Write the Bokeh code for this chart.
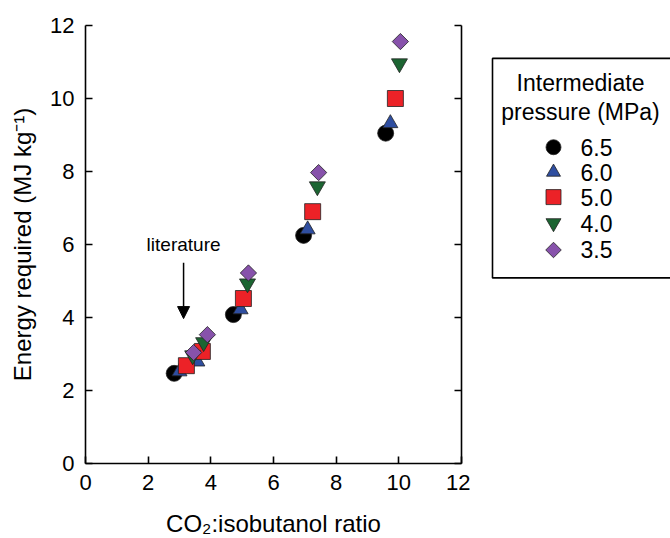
from bokeh.plotting import figure
from bokeh.layouts import row
from bokeh.models import (Range1d, LinearAxis, Label, Arrow, NormalHead, FixedTicker,
                          CustomJSTickFormatter)
from bokeh.embed import file_html
from bokeh.resources import INLINE
from bokeh.core.properties import value
import math

FONT = "Liberation Sans"

# Energy required vs CO2:isobutanol ratio, one series per intermediate pressure (MPa)
pressures = ["6.5", "6.0", "5.0", "4.0", "3.5"]

ratio_65 = [2.83, 4.72, 6.96, 9.58]
energy_65 = [2.47, 4.08, 6.25, 9.05]

ratio_60 = [3.00, 3.57, 4.95, 7.09, 9.73]
energy_60 = [2.52, 2.79, 4.22, 6.41, 9.32]

ratio_50 = [3.22, 3.73, 5.04, 7.25, 9.89]
energy_50 = [2.68, 3.07, 4.52, 6.90, 10.00]

ratio_40 = [3.42, 3.77, 5.17, 7.40, 10.02]
energy_40 = [2.96, 3.32, 4.93, 7.59, 10.96]

ratio_35 = [3.45, 3.89, 5.20, 7.44, 10.05]
energy_35 = [3.04, 3.53, 5.22, 7.97, 11.56]

x_ticks = [0, 2, 4, 6, 8, 10, 12]
y_ticks = [0, 2, 4, 6, 8, 10, 12]

literature_ratio = 3.13

colors = ["#000000", "#2f4ea0", "#ec2227", "#1c6532", "#8752ab"]
markers = ["circle", "triangle", "square", "inverted_triangle", "square"]
angles = [0, 0, 0, 0, math.pi / 4]
sizes = [16, 15, 16, 16, 11.5]

series = [
    (ratio_65, energy_65),
    (ratio_60, energy_60),
    (ratio_50, energy_50),
    (ratio_40, energy_40),
    (ratio_35, energy_35),
]

BORDER_TOP, BORDER_BOTTOM = 25, 75

p = figure(
    frame_width=376, frame_height=438,
    x_range=Range1d(0, 12), y_range=Range1d(0, 12),
    output_backend="svg", toolbar_location=None,
    min_border_left=85, min_border_right=9,
    min_border_top=BORDER_TOP, min_border_bottom=BORDER_BOTTOM,
    background_fill_color="white", border_fill_color="white",
)
p.outline_line_color = None
p.xgrid.visible = False
p.ygrid.visible = False

for ax in (p.xaxis[0], p.yaxis[0]):
    ax.ticker = FixedTicker(ticks=x_ticks)
    ax.major_tick_in = 7
    ax.major_tick_out = 0
    ax.minor_tick_line_color = None
    ax.axis_line_width = 1.6
    ax.major_tick_line_width = 1.6
    ax.major_label_text_font = FONT
    ax.major_label_text_font_size = "22px"
    ax.major_label_text_color = "black"
    ax.axis_label_text_font = FONT
    ax.axis_label_text_font_size = "24px"
    ax.axis_label_text_font_style = "normal"
    ax.axis_label_text_color = "black"
    ax.major_label_standoff = 11

p.yaxis[0].ticker = FixedTicker(ticks=y_ticks)
p.xaxis[0].axis_label = "CO\u2082:isobutanol ratio"
p.xaxis[0].axis_label_standoff = 17
p.yaxis[0].axis_label = "Energy required (MJ kg\u207b\u00b9)"
p.yaxis[0].axis_label_standoff = 11

right = LinearAxis(
    ticker=FixedTicker(ticks=y_ticks),
    formatter=CustomJSTickFormatter(code="return ''"),
    major_tick_in=7, major_tick_out=0,
    minor_tick_line_color=None,
    axis_line_width=1.6, major_tick_line_width=1.6,
    major_label_standoff=0,
)
p.add_layout(right, "right")

for (xs, ys), c, m, a, s in zip(series, colors, markers, angles, sizes):
    p.scatter(xs, ys, marker=m, size=s, angle=a, fill_color=c,
              line_color="#222222", line_width=0.8)

p.add_layout(Arrow(
    end=NormalHead(size=12, fill_color="black", line_color="black"),
    x_start=literature_ratio, y_start=5.5,
    x_end=literature_ratio, y_end=3.97,
    line_width=1.5, line_color="black",
))
p.add_layout(Label(
    x=literature_ratio, y=6.0, text="literature",
    text_font=FONT, text_font_size="19px", text_color="black",
    text_align="center", text_baseline="middle",
))
p.add_layout(Label(
    x=-2.62, y=12.55, text="B.",
    text_font=FONT, text_font_size="24px", text_font_style="bold", text_color="black",
    text_align="left", text_baseline="alphabetic",
))

# Legend panel on its own canvas; its frame lines up with the plot frame,
# and its coordinates count pixels from the top of the page
lg = figure(
    width=200, height=538,
    x_range=Range1d(0, 200), y_range=Range1d(538 - BORDER_BOTTOM, BORDER_TOP),
    x_axis_type=None, y_axis_type=None,
    output_backend="svg", toolbar_location=None,
    min_border_left=0, min_border_right=0,
    min_border_top=BORDER_TOP, min_border_bottom=BORDER_BOTTOM,
    background_fill_color="white", border_fill_color="white",
)
lg.outline_line_color = None
lg.xgrid.visible = False
lg.ygrid.visible = False

lg.line([201, 22, 22, 201], [58, 58, 278, 278], line_color="black", line_width=1.6)
lg.text([110, 110], [83, 112], text=["Intermediate", "pressure (MPa)"],
        text_font=value(FONT), text_font_size="23px", text_color="black",
        text_align="center", text_baseline="middle")

legend_y = [147, 172, 197, 223, 250]
leg_sizes = [15, 14, 15, 15, 11]
for yy, c, m, a, s, lab in zip(legend_y, colors, markers, angles, leg_sizes, pressures):
    lg.scatter([83], [yy], marker=m, size=s, angle=-a, fill_color=c,
               line_color="#222222", line_width=0.8)
lg.text([110] * 5, legend_y, text=pressures,
        text_font=value(FONT), text_font_size="23px", text_color="black",
        text_align="left", text_baseline="middle")
lg.add_layout(Label(
    x=188, y=4, text="C",
    text_font=FONT, text_font_size="24px", text_font_style="bold", text_color="black",
    text_align="left", text_baseline="alphabetic",
))

layout = row(p, lg)
open("out.html", "w").write(file_html(layout, INLINE))
